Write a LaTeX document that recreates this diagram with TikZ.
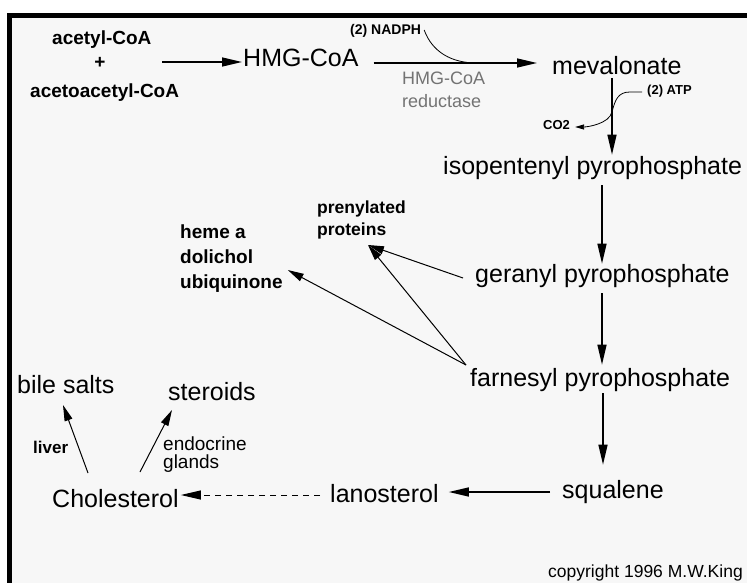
\documentclass[tikz,border=0pt]{standalone}
\usepackage{fontspec}
\setmainfont{Liberation Sans}
\usetikzlibrary{arrows.meta, positioning, calc}

\begin{document}
\begin{tikzpicture}[x=1pt, y=-1pt,
    big/.style={inner sep=0pt, anchor=base west, font=\fontsize{25}{30}\selectfont},
    lbl/.style={inner sep=0pt, anchor=base west, font=\bfseries\fontsize{19}{22}\selectfont},
    tiny/.style={inner sep=0pt, anchor=base west, font=\bfseries\fontsize{13}{15}\selectfont},
    note/.style={inner sep=0pt, anchor=base west, font=\fontsize{19}{22}\selectfont},
    arr/.style={line width=1.4pt, -{Triangle[length=20pt, width=9pt]}},
    thinarr/.style={line width=1pt, -{Triangle[length=16pt, width=8pt]}}]
  \useasboundingbox (0,0) rectangle (747,583);
  % Frame
  \fill[black!3] (12,18) rectangle (747,583);
  \draw[line width=5pt] (9.5,583) -- (9.5,15.5) -- (747,15.5);
  % Main pathway
  \node[lbl] (acetyl) at (52,45) {acetyl-CoA};
  \node[lbl, anchor=center] (plus) at (100,63) {+};
  \node[lbl] (acetoacetyl) at (30,98) {acetoacetyl-CoA};
  \node[big] (hmg) at (243,67) {HMG-CoA};
  \node[big] (meva) at (552,75) {mevalonate};
  \node[big] (ipp) at (443,175) {isopentenyl pyrophosphate};
  \node[big] (ger) at (475,282) {geranyl pyrophosphate};
  \node[big] (far) at (470,386) {farnesyl pyrophosphate};
  \node[big] (sq) at (562,498) {squalene};
  \node[big] (lano) at (330,502) {lanosterol};
  \node[big] (chol) at (52,507) {Cholesterol};
  \node[big] (bile) at (17,393) {bile salts};
  \node[big] (ster) at (168,400) {steroids};
  % Cofactors and side products
  \node[tiny, font=\bfseries\fontsize{14}{16}\selectfont] (nadph) at (350,35) {(2) NADPH};
  \node[note, text=black!55, font=\fontsize{18}{21}\selectfont] (enz1) at (402,85) {HMG-CoA};
  \node[note, text=black!55, font=\fontsize{18}{21}\selectfont] (enz2) at (402,108) {reductase};
  \node[tiny] (atp) at (647,95) {(2) ATP};
  \node[tiny] (co2) at (543,130) {CO2};
  \node[lbl, font=\bfseries\fontsize{17.5}{20}\selectfont] (prenyl) at (317,213) {prenylated};
  \node[lbl, font=\bfseries\fontsize{17.5}{20}\selectfont] (prot) at (317,235) {proteins};
  \node[lbl] (heme) at (180,238) {heme a};
  \node[lbl] (dol) at (180,263) {dolichol};
  \node[lbl] (ubi) at (180,288) {ubiquinone};
  \node[lbl, font=\bfseries\fontsize{17}{20}\selectfont] (liver) at (33,453) {liver};
  \node[note] (endo) at (163,450) {endocrine};
  \node[note] (glands) at (163,468) {glands};
  \node[note, font=\fontsize{17.5}{20}\selectfont] (copy) at (548,577) {copyright 1996 M.W.King};
  % Arrows
  \draw[arr] ($(plus)+(62,-1)$) -- ($(hmg.base west)+(-1,-5)$);
  \draw[arr] ($(hmg.base east)+(15,-4)$) -- coordinate[pos=0.63] (join) ($(meva.base west)+(-15,-12)$);
  \draw[line width=0.8pt] ($(nadph.base east)+(3,-5)$) .. controls +(8,22) and +(-25,0) .. (join);
  \draw[line width=2.6pt] (join) -- ++(14,0);
  \draw[arr] ($(meva.base west)+(60,3)$) coordinate (m1) -- ($(m1 |- ipp.north)+(0,-2)$);
  \draw[line width=0.8pt, -{Triangle[length=9pt, width=5pt]}] ($(atp.base west)+(-5,-3)$) -- ++(-12,0)
    .. controls +(-12,0) and +(3,-12) .. ($(m1)+(0,34)$)
    .. controls +(-3,12) and +(12,0) .. ($(co2.base east)+(5,-3)$);
  \draw[arr] ($(ipp.base west)+(159,10)$) coordinate (i1) -- (i1 |- ger.north);
  \draw[arr] ($(ger.base west)+(127,11)$) coordinate (g1) -- ($(g1 |- far.north)+(0,-3)$);
  \draw[arr] ($(far.base west)+(133,7)$) coordinate (f1) -- ($(f1 |- sq.north)+(0,-15)$);
  \draw[arr] ($(sq.base west)+(-12,-6)$) -- ($(lano.base east)+(10,-10)$);
  \draw[arr, line width=1pt, dash pattern=on 6pt off 5pt] ($(lano.base west)+(-10,-7)$) -- ($(chol.base east)+(2,-12)$);
  \draw[thinarr] ($(chol.base west)+(36,-34)$) -- ($(bile.base west)+(46,12)$);
  \draw[thinarr] ($(chol.base west)+(88,-35)$) -- ($(ster.base west)+(4,10)$);
  \draw[thinarr] ($(ger.base west)+(-12,-4)$) -- ($(prot.base west)+(51,10)$);
  \draw[thinarr] ($(far.base west)+(-4,-21)$) -- ($(prot.base west)+(51,10)$);
  \draw[thinarr] ($(far.base west)+(-4,-21)$) -- ($(ubi.base east)+(5,-18)$);
\end{tikzpicture}
\end{document}
